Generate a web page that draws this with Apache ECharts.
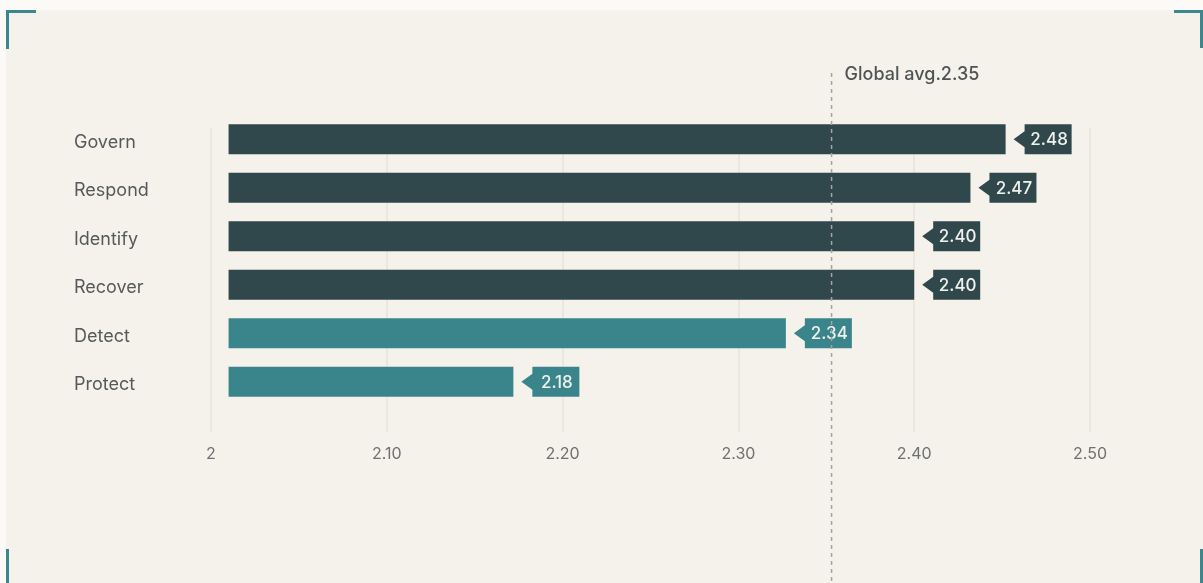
<!DOCTYPE html>
<html>
<head>
<meta charset="utf-8">
<script src="https://cdn.jsdelivr.net/npm/echarts@6/dist/echarts.min.js"></script>
<style>
  html, body { margin: 0; padding: 0; background: #fbfaf7; }
  #chart { width: 1203px; height: 583px; }
</style>
</head>
<body>
<div id="chart"></div>
<script>
// data
var categories = ['Govern', 'Respond', 'Identify', 'Recover', 'Detect', 'Protect'];
var scores = [2.48, 2.47, 2.40, 2.40, 2.34, 2.18];       // numbers written in the tags
var barEnds = [2.452, 2.432, 2.400, 2.400, 2.327, 2.172]; // where the bars actually stop
var barStart = 2.01;
var globalAvg = 2.35;
var avgLinePos = 2.353;
var xTicks = [2, 2.1, 2.2, 2.3, 2.4, 2.5];

var dark = '#30474c';
var teal = '#3a858b';
var accent = '#3b878e';

var chart = echarts.init(document.getElementById('chart'));

var barData = [];
for (var i = 0; i < categories.length; i++) {
    barData.push([barStart, barEnds[i], i, scores[i]]);
}

//bar + arrow tag
function renderBar(params, api) {
    var s = api.coord([api.value(0), api.value(2)]);
    var e = api.coord([api.value(1), api.value(2)]);
    var h = 30;
    var color = api.value(3) >= globalAvg ? dark : teal;
    var top = e[1] - h / 2, bot = e[1] + h / 2;
    var tip = e[0] + 8, bodyL = tip + 11, bodyR = bodyL + 47;
    return {
        type: 'group',
        children: [{
            type: 'rect',
            shape: { x: s[0], y: top, width: e[0] - s[0], height: h },
            style: { fill: color }
        }, {
            type: 'polygon',
            shape: { points: [[tip, e[1]], [bodyL, top + 7], [bodyL, top], [bodyR, top], [bodyR, bot], [bodyL, bot], [bodyL, bot - 7]] },
            style: { fill: color }
        }, {
            type: 'text',
            style: {
                x: (bodyL + bodyR) / 2 + 1, y: e[1] + 1,
                text: api.value(3).toFixed(2),
                align: 'center', verticalAlign: 'middle',
                fill: '#eef1ec', fontSize: 17, fontWeight: 500,
                fontFamily: 'Inter'
            }
        }]
    };
}

//global average dashed line
function renderAvg(params, api) {
    var p0 = api.coord([api.value(0), 1]);
    var p1 = api.coord([api.value(0), 0]);
    return {
        type: 'group',
        children: [{
            type: 'line',
            shape: { x1: p0[0], y1: p0[1], x2: p1[0], y2: p1[1] + 20 },
            style: { stroke: '#a3a3a1', lineWidth: 1.5, lineDash: [4, 4] }
        }, {
            type: 'text',
            style: {
                x: p0[0] + 13, y: p0[1] + 2,
                text: 'Global avg.' + globalAvg.toFixed(2),
                align: 'left', verticalAlign: 'middle',
                fill: '#505355', fontSize: 18, fontWeight: 500,
                fontFamily: 'Inter'
            }
        }]
    };
}

var option = {
    backgroundColor: 'transparent',
    animation: false,
    textStyle: { fontFamily: 'Inter' },
    graphic: [{
        type: 'rect', z: -10,
        shape: { x: 6, y: 10, width: 1200, height: 580 },
        style: { fill: '#f5f2ec' }
    }, {
        type: 'polyline', z: 10,
        shape: { points: [[7.5, 49], [7.5, 11.5], [36, 11.5]] },
        style: { stroke: accent, lineWidth: 3, fill: null }
    }, {
        type: 'polyline', z: 10,
        shape: { points: [[1174, 11.5], [1201.5, 11.5], [1201.5, 48]] },
        style: { stroke: accent, lineWidth: 3, fill: null }
    }, {
        type: 'line', z: 10,
        shape: { x1: 7.5, y1: 549, x2: 7.5, y2: 590 },
        style: { stroke: accent, lineWidth: 3 }
    }, {
        type: 'line', z: 10,
        shape: { x1: 1201.5, y1: 549, x2: 1201.5, y2: 590 },
        style: { stroke: accent, lineWidth: 3 }
    }],
    grid: [
        { left: 211, right: 113, top: 115, height: 291 },   // bars
        { left: 211, right: 113, top: 128, height: 304 },   // grid lines + ticks
        { left: 211, right: 113, top: 73, bottom: 0 }        // average line
    ],
    xAxis: [{
        gridIndex: 0, type: 'value', min: 2, max: 2.5, show: false
    }, {
        gridIndex: 1, type: 'value', min: 2, max: 2.5, interval: 0.1,
        axisLine: { show: false },
        axisTick: { show: false },
        splitLine: { show: true, lineStyle: { color: '#e7e3dc', width: 1.5 } },
        axisLabel: {
            margin: 14,
            color: '#6e7072',
            fontSize: 16,
            formatter: function (v) {
                for (var k = 0; k < xTicks.length; k++) {
                    if (Math.abs(v - xTicks[k]) < 1e-6) {
                        return k === 0 ? String(xTicks[k]) : xTicks[k].toFixed(2);
                    }
                }
                return '';
            }
        }
    }, {
        gridIndex: 2, type: 'value', min: 2, max: 2.5, show: false
    }],
    yAxis: [{
        gridIndex: 0, type: 'category', inverse: true,
        data: categories,
        axisLine: { show: false },
        axisTick: { show: false },
        axisLabel: {
            align: 'left', margin: 137,
            verticalAlign: 'top', lineHeight: 6,
            color: '#56595b', fontSize: 18
        }
    }, {
        gridIndex: 1, type: 'value', show: false
    }, {
        gridIndex: 2, type: 'value', min: 0, max: 1, show: false
    }],
    series: [{
        type: 'custom',
        xAxisIndex: 0, yAxisIndex: 0,
        renderItem: renderBar,
        encode: { x: [0, 1], y: 2 },
        data: barData,
        z: 2
    }, {
        type: 'custom',
        xAxisIndex: 2, yAxisIndex: 2,
        renderItem: renderAvg,
        data: [[avgLinePos]],
        clip: false,
        z: 5
    }]
};
chart.setOption(option);
</script>
</body>
</html>
